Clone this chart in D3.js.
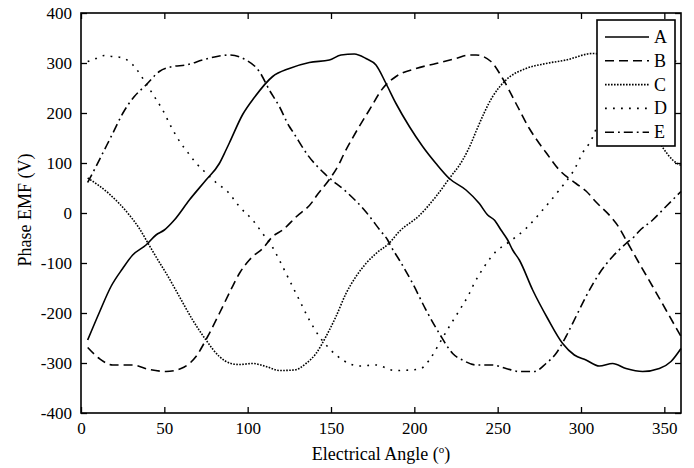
<!DOCTYPE html>
<html>
<script src="https://d3js.org/d3.v7.min.js"></script>

<head>
    <meta charset="utf-8">
    <style>
        body {
            margin: 0;
            background-color: white;
        }

        svg {
            display: block;
            font-family: "Liberation Serif", "Times New Roman", serif;
        }
    </style>
</head>

<body>
    <svg width="694" height="468"></svg>
</body>
<script>
    const width = 694,
        height = 468;
    const svg = d3.select("svg");

    // values, [angle, volts]
    const PHASE_A = [[4, -254], [11, -199], [18, -147], [25, -111], [31, -84], [39, -64], [45, -44], [50, -34], [56, -14],
        [65, 26], [75, 66], [83, 99], [87, 126], [89, 140], [97, 197], [104, 231], [115, 273], [125, 289], [137, 301],
        [149, 306], [156, 316], [164, 318], [171, 309], [177, 296], [183, 259], [189, 219], [197, 173], [205, 133],
        [213, 99], [221, 69], [231, 46], [239, 19], [244, -4], [248, -14], [252, -34], [256, -54], [259, -74],
        [263, -94], [271, -154], [280, -211], [289, -261], [296, -284], [303, -294], [311, -306], [319, -301],
        [327, -311], [337, -317], [347, -311], [354, -297], [360, -271]];
    const PHASE_B = [[4, -269], [11, -291], [19, -304], [31, -304], [41, -313], [51, -317], [60, -311], [69, -287],
        [76, -247], [83, -201], [90, -153], [95, -121], [101, -94], [103, -87], [109, -71], [115, -47], [121, -34],
        [129, -8], [139, 23], [141, 33], [149, 67], [155, 99], [157, 113], [165, 162], [173, 206], [181, 249],
        [189, 273], [201, 289], [213, 299], [225, 309], [233, 316], [237, 316], [246, 303], [253, 269], [261, 219],
        [269, 169], [275, 139], [279, 121], [287, 86], [297, 59], [303, 44], [309, 22], [318, -8], [323, -30],
        [327, -54], [335, -101], [343, -147], [351, -194], [360, -247]];
    const PHASE_C = [[4, 70], [17, 38], [29, -4], [35, -31], [41, -65], [48, -104], [51, -120], [59, -167], [67, -214],
        [75, -254], [83, -287], [90, -301], [95, -303], [103, -301], [111, -307], [119, -315], [128, -314],
        [135, -301], [141, -281], [147, -247], [153, -207], [159, -161], [165, -127], [171, -101], [177, -81],
        [185, -60], [191, -37], [203, -5], [213, 33], [221, 69], [229, 106], [234, 139], [237, 163], [247, 233],
        [255, 266], [267, 289], [279, 299], [291, 306], [307, 319], [315, 315], [322, 296], [328, 259], [334, 219],
        [341, 173], [349, 131], [355, 106], [360, 95]];
    const PHASE_D = [[4, 303], [9, 309], [14, 315], [19, 313], [24, 311], [29, 303], [33, 289], [39, 259], [44, 233],
        [49, 206], [54, 173], [60, 139], [63, 126], [69, 100], [75, 80], [81, 61], [89, 39], [92, 26], [95, 13],
        [103, -14], [109, -41], [115, -69], [119, -94], [125, -134], [131, -174], [137, -214], [143, -247],
        [149, -271], [157, -294], [167, -306], [177, -304], [188, -315], [198, -314], [204, -311], [209, -294],
        [215, -261], [221, -227], [227, -195], [233, -161], [235, -147], [242, -107], [249, -77], [256, -60],
        [267, -31], [277, 6], [287, 46], [296, 87], [302, 126], [305, 139], [312, 190], [320, 229], [330, 270],
        [340, 289], [350, 300], [360, 305]];
    const PHASE_E = [[4, 61], [9, 93], [14, 126], [19, 159], [25, 199], [32, 233], [39, 256], [47, 283], [55, 293],
        [63, 296], [73, 306], [83, 314], [89, 316], [99, 306], [107, 283], [113, 246], [119, 213], [125, 173],
        [127, 163], [136, 116], [147, 76], [159, 43], [170, 6], [180, -37], [184, -54], [186, -67], [191, -94],
        [199, -141], [207, -194], [215, -241], [223, -281], [230, -296], [237, -304], [247, -304], [255, -311],
        [263, -317], [272, -317], [279, -301], [285, -281], [291, -247], [297, -207], [303, -167], [311, -121],
        [319, -87], [327, -61], [332, -47], [335, -36], [343, -14], [351, 13], [360, 43]];

    const SERIES_NAMES = ["A", "B", "C", "D", "E"];
    const X_TICKS = [0, 50, 100, 150, 200, 250, 300, 350];
    const Y_TICKS = [-400, -300, -200, -100, 0, 100, 200, 300, 400];

    const SERIES = [PHASE_A, PHASE_B, PHASE_C, PHASE_D, PHASE_E];
    const DASHES = [null, "9,5", "1.6,1.4", "1.8,6.2", "9,4,1.8,4"];

    const mLeft = 81, mRight = 681, mTop = 13, mBottom = 413;
    const x = d3.scaleLinear().domain([0, 360]).range([mLeft, mRight]);
    const y = d3.scaleLinear().domain([-400, 400]).range([mBottom, mTop]);

    function draw() {
        const line = d3.line()
            .x(d => x(d[0]))
            .y(d => y(d[1]))
            .curve(d3.curveMonotoneX);

        const plot = svg.append("g");
        SERIES.forEach((s, i) => {
            plot.append("path")
                .attr("fill", "none")
                .attr("stroke", "black")
                .attr("stroke-width", 1.6)
                .attr("stroke-dasharray", DASHES[i])
                .attr("d", line(s));
        });

        // axes box with ticks on all four sides, pointing in
        const tickLen = 6;
        const axisStyle = g => {
            g.select(".domain").remove();
            g.selectAll(".tick line").attr("stroke", "black").attr("stroke-width", 1.3);
            g.selectAll("text")
                .attr("font-family", "Liberation Serif, Times New Roman, serif")
                .attr("font-size", 17)
                .attr("fill", "black");
        };
        // plain hyphen for negatives, like the original
        const fmt = d => String(d);
        svg.append("g")
            .attr("transform", `translate(0,${mBottom})`)
            .call(d3.axisBottom(x).tickValues(X_TICKS).tickSize(-tickLen).tickPadding(9).tickFormat(fmt))
            .call(axisStyle);
        svg.append("g")
            .attr("transform", `translate(0,${mTop})`)
            .call(d3.axisTop(x).tickValues(X_TICKS).tickSize(-tickLen).tickFormat(""))
            .call(axisStyle);
        svg.append("g")
            .attr("transform", `translate(${mLeft},0)`)
            .call(d3.axisLeft(y).tickValues(Y_TICKS).tickSize(-tickLen).tickPadding(9).tickFormat(fmt))
            .call(axisStyle);
        svg.append("g")
            .attr("transform", `translate(${mRight},0)`)
            .call(d3.axisRight(y).tickValues(Y_TICKS).tickSize(-tickLen).tickFormat(""))
            .call(axisStyle);
        svg.append("rect")
            .attr("x", mLeft)
            .attr("y", mTop)
            .attr("width", mRight - mLeft)
            .attr("height", mBottom - mTop)
            .attr("fill", "none")
            .attr("stroke", "black")
            .attr("stroke-width", 1.6);

        // axis labels
        const xl = svg.append("text")
            .attr("x", (mLeft + mRight) / 2)
            .attr("y", 460)
            .attr("text-anchor", "middle")
            .attr("font-size", 18);
        xl.append("tspan").text("Electrical Angle (");
        xl.append("tspan").attr("font-size", 11).attr("dy", -7).text("o");
        xl.append("tspan").attr("dy", 7).text(")");

        svg.append("text")
            .attr("transform", "translate(31,210) rotate(-90)")
            .attr("text-anchor", "middle")
            .attr("font-size", 18)
            .text("Phase EMF (V)");

        // legend
        const lg = svg.append("g").attr("transform", "translate(597,20)");
        lg.append("rect")
            .attr("width", 78)
            .attr("height", 126)
            .attr("fill", "white")
            .attr("stroke", "black")
            .attr("stroke-width", 1.6);
        SERIES_NAMES.forEach((name, i) => {
            const ly = 17 + i * 23.8;
            lg.append("line")
                .attr("x1", 8)
                .attr("x2", 52)
                .attr("y1", ly)
                .attr("y2", ly)
                .attr("stroke", "black")
                .attr("stroke-width", 1.6)
                .attr("stroke-dasharray", DASHES[i]);
            lg.append("text")
                .attr("x", 57)
                .attr("y", ly + 6)
                .attr("font-size", 18)
                .text(name);
        });
    }

    draw();
</script>

</html>
